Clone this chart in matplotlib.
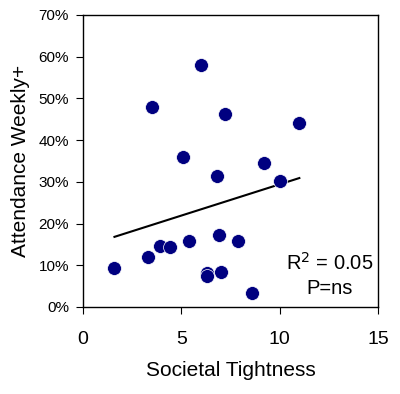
import matplotlib.pyplot as plt
from matplotlib.ticker import PercentFormatter

tightness = [1.6, 3.3, 3.9, 4.4, 5.4, 5.1, 3.5, 6.0, 7.2, 6.8, 6.9, 6.3, 6.3, 7.0, 7.9, 8.6, 9.2, 10.0, 11.0]
attendance = [9.4, 11.9, 14.5, 14.3, 15.9, 36.0, 48.0, 57.9, 46.3, 31.5, 17.3, 8.1, 7.5, 8.3, 15.7, 3.4, 34.4, 30.3, 44.2]

trend_x = [1.6, 11.0]
trend_y = [16.8, 30.9]

plt.rcParams['font.family'] = ['Liberation Sans', 'DejaVu Sans']

fig = plt.figure(figsize=(4, 3.94), dpi=100)
ax = fig.add_axes([0.2075, 0.221, 0.7375, 0.741])

ax.scatter(tightness, attendance, s=100, color='#000080', edgecolors='white', linewidths=0.5, zorder=3)
ax.plot(trend_x, trend_y, color='black', linewidth=1.5, zorder=2)

ax.set_xlim(0, 15)
ax.set_ylim(0, 70)
ax.set_xticks([0, 5, 10, 15])
ax.set_yticks(range(0, 71, 10))
ax.yaxis.set_major_formatter(PercentFormatter(decimals=0))
ax.tick_params(axis='x', labelsize=14, direction='out', length=5, pad=12)
ax.tick_params(axis='y', labelsize=11, direction='out', length=5, pad=5)
for s in ax.spines.values():
    s.set_linewidth(1)

ax.set_xlabel("Societal Tightness", fontsize=15, labelpad=10)
ax.set_ylabel("Attendance Weekly+", fontsize=15, labelpad=6)

ax.text(12.55, 10.6, "R$^2$ = 0.05", fontsize=14.5, ha='center', va='center')
ax.text(12.55, 4.3, "P=ns", fontsize=14.5, ha='center', va='center')

fig.savefig("out.png", dpi=100)
plt.close(fig)
